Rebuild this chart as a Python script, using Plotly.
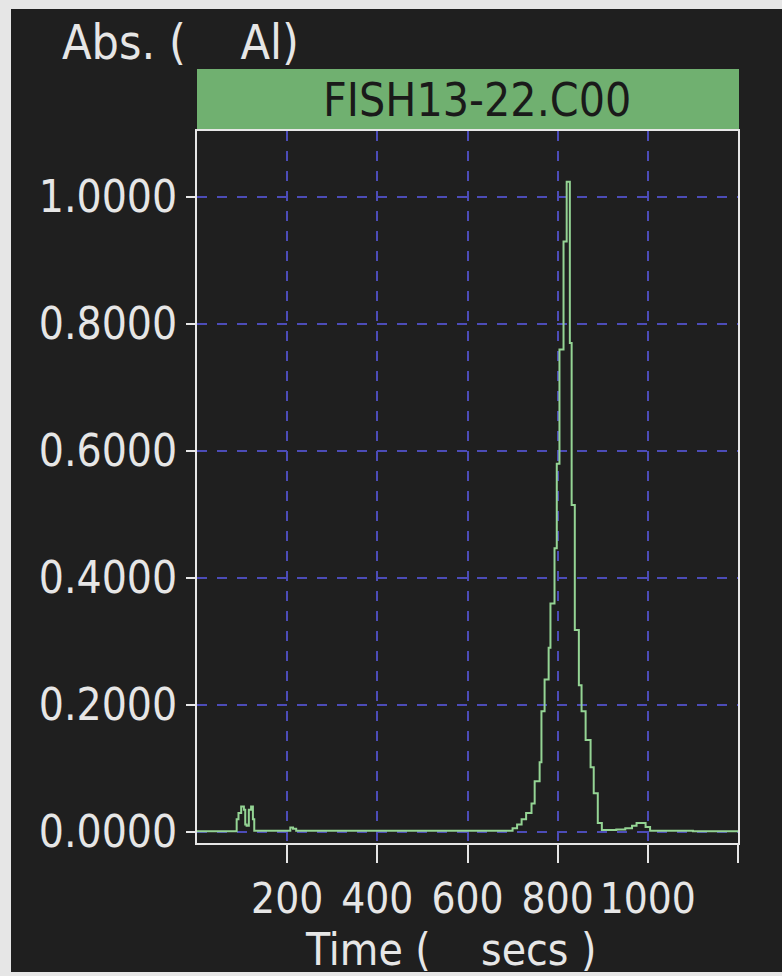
import plotly.graph_objects as go

# Absorbance trace for Al (sample FISH13-22.C00), time in seconds
time_s = [0, 60, 85, 88, 92, 98, 104, 107, 110, 115, 120, 124, 127, 160, 200, 207, 213, 220,
          300, 400, 500, 600, 693, 700, 710, 720, 730, 742, 749, 760, 764, 771, 780, 784,
          793, 798, 804, 813, 820, 827, 831, 838, 847, 853, 862, 873, 880, 889, 898, 930,
          950, 965, 975, 985, 995, 1005, 1100, 1200]
absorbance = [0.001, 0.001, 0.001, 0.02, 0.03, 0.04, 0.035, 0.012, 0.01, 0.035, 0.04, 0.02,
              0.002, 0.002, 0.002, 0.007, 0.005, 0.002, 0.002, 0.002, 0.002, 0.002, 0.002,
              0.006, 0.012, 0.02, 0.03, 0.045, 0.08, 0.11, 0.19, 0.24, 0.29, 0.36, 0.447,
              0.58, 0.76, 0.93, 1.024, 0.77, 0.515, 0.318, 0.231, 0.19, 0.145, 0.102, 0.061,
              0.014, 0.003, 0.004, 0.006, 0.01, 0.014, 0.014, 0.008, 0.002, 0.001, 0.001]

x_ticks = [200, 400, 600, 800, 1000, 1200]
x_tick_text = ["200", "400", "600", "800", "1000", ""]
y_ticks = [0.0, 0.2, 0.4, 0.6, 0.8, 1.0]

sample_name = "FISH13-22.C00"
y_title = "Abs.\u00a0(\u00a0\u00a0\u00a0\u00a0Al)"
x_title = "Time\u00a0(\u00a0\u00a0\u00a0\u00a0secs\u00a0)"

W, H = 782, 976
L, R, T, B = 197, 738, 131, 843  # plot-area edges in pixels


def px_x(p):
    return (p - L) / (R - L)


def px_y(p):
    return (B - p) / (B - T)


PANEL = "#1f1f1f"
FG = "#e6e6e6"
FONT = "DejaVu Sans Condensed, DejaVu Sans, sans-serif"

fig = go.Figure()
fig.add_trace(go.Scatter(
    x=time_s, y=absorbance, mode="lines", line_shape="hv",
    line=dict(color="#94d494", width=2), showlegend=False, hoverinfo="x+y",
))

axis_common = dict(
    showline=True, linecolor=FG, linewidth=2, mirror=True,
    ticks="outside", tickcolor=FG, tickwidth=2,
    showgrid=True, gridcolor="#4c4cb8", gridwidth=1.5, griddash="10px,10px",
    zeroline=False,
)

fig.update_xaxes(range=[0, 1200], tickvals=x_ticks, ticktext=x_tick_text,
                 ticklen=18, tickfont=dict(family=FONT, size=42, color=FG),
                 **axis_common)
fig.update_yaxes(range=[(832 - 843) / 635, (832 - 131) / 635], tickvals=y_ticks,
                 tickformat=".4f", ticklen=9,
                 tickfont=dict(family=FONT, size=44, color=FG), **axis_common)

fig.update_layout(
    width=W, height=H,
    margin=dict(l=L, r=W - R, t=T, b=H - B, pad=0),
    paper_bgcolor="#e6e6e6", plot_bgcolor=PANEL,
    shapes=[
        dict(type="rect", xref="paper", yref="paper", layer="below",
             x0=px_x(11), x1=px_x(782), y0=px_y(972), y1=px_y(9),
             fillcolor=PANEL, line=dict(width=0)),
        dict(type="rect", xref="paper", yref="paper", layer="below",
             x0=0, x1=px_x(739), y0=1, y1=px_y(69),
             fillcolor="#70b070", line=dict(width=0)),
    ],
    annotations=[
        dict(text=sample_name, xref="paper", yref="paper", x=px_x(477), y=px_y(100),
             xanchor="center", yanchor="middle", showarrow=False,
             font=dict(family=FONT, size=46, color="#1a1a1a")),
        dict(text=y_title, xref="paper", yref="paper", x=px_x(60), y=px_y(42),
             xanchor="left", yanchor="middle", showarrow=False,
             font=dict(family=FONT, size=48, color=FG)),
        dict(text=x_title, xref="paper", yref="paper", x=px_x(303), y=px_y(950),
             xanchor="left", yanchor="middle", showarrow=False,
             font=dict(family=FONT, size=44, color=FG)),
    ],
)

fig.write_html("out.html")
